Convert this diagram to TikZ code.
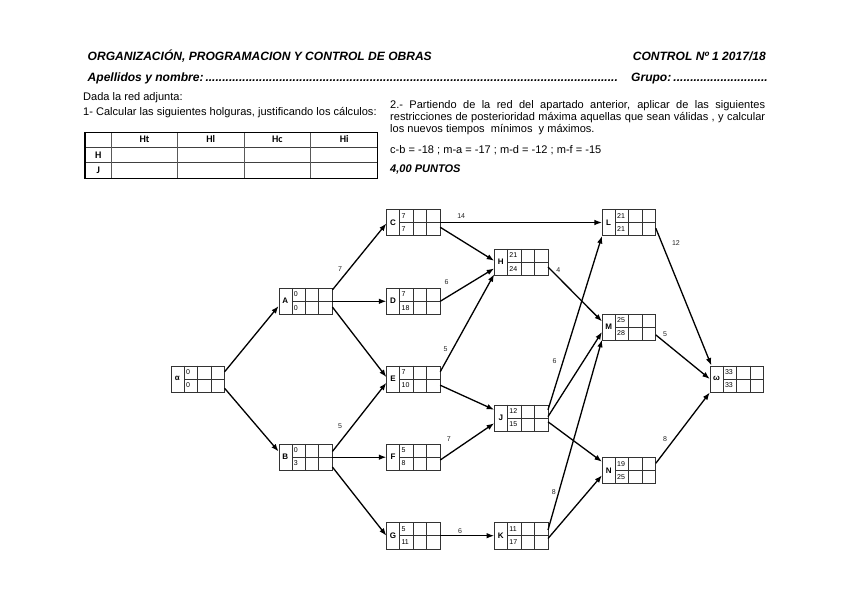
\documentclass[tikz,border=0pt]{standalone}
\usepackage{fontspec}
\setmainfont{Liberation Sans}
\newfontfamily\tablafont{Carlito}
\usetikzlibrary{arrows.meta}

% casilla de actividad: nombre, posicion, letra, tiempo minimo, tiempo maximo
\newcommand{\actividad}[5]{%
  \node[caja] (#1) at (#2) {};
  \begin{scope}[shift={(#1.north west)}]
    \draw[rejilla] (13.3,0) -- (13.3,26.4) (26.7,0) -- (26.7,26.4)
      (40,0) -- (40,26.4) (13.3,13.2) -- (53.3,13.2);
    \node[letra] (#1-l) at (6.65,13.2) {#3};
    \node[num] (#1-t) at (15,6.6) {#4};
    \node[num] (#1-b) at (15,19.8) {#5};
  \end{scope}
}

\begin{document}
\begin{tikzpicture}[x=0.035cm, y=-0.035cm,
    caja/.style={draw=black!80, line width=0.5pt, rectangle, inner sep=0pt,
      minimum width=1.8655cm, minimum height=0.924cm},
    rejilla/.style={draw=black!80, line width=0.5pt},
    letra/.style={font=\fontsize{8}{9}\selectfont\bfseries, inner sep=0pt},
    num/.style={font=\fontsize{7}{8}\selectfont, inner sep=0pt, anchor=west},
    flecha/.style={-{Latex[length=7.5pt,width=5.5pt]}, line width=1.3pt},
    lbl/.style={font=\fontsize{7}{8}\selectfont, text=black!85, inner sep=0pt},
    titulo/.style={font=\fontsize{12}{14}\selectfont\bfseries\itshape, inner sep=0pt},
    texto/.style={font=\fontsize{11}{12}\selectfont, inner sep=0pt},
    cab/.style={font=\tablafont\bfseries\fontsize{10}{11}\selectfont, inner sep=0pt,
      text height=6.5pt, text depth=0pt},
  ]
  \useasboundingbox (0,0) rectangle (848,599);

  % cabecera
  \node[titulo, anchor=base west] (tit) at (87.5,60.7)
    {ORGANIZACIÓN, PROGRAMACION Y CONTROL DE OBRAS};
  \node[titulo, anchor=base east] (ctrl) at (766,60.7) {CONTROL Nº 1 2017/18};
  \node[titulo, anchor=base west] (apell) at (87.5,81)
    {\hbox to 18.55cm{Apellidos y nombre:\,\xleaders\hbox{.}\hfill}};
  \node[titulo, anchor=base west] (grupo) at (631,81)
    {\hbox to 4.78cm{Grupo:\,\xleaders\hbox{.}\hfill}};

  % enunciado
  \node[texto, anchor=base west] (dada) at (83,100) {Dada la red adjunta:};
  \node[texto, anchor=base west] (calc) at (83,115.7)
    {1- Calcular las siguientes holguras, justificando los cálculos:};
  \node[texto, anchor=north west, text width=13.125cm, align=justify] (parte2) at (390,100.3)
    {2.- Partiendo de la red del apartado anterior, aplicar de las siguientes\linebreak
     restricciones de posterioridad máxima aquellas que sean válidas , y calcular\linebreak
     los nuevos tiempos~ mínimos~ y máximos.};
  \node[texto, anchor=base west] (restr) at (390,153.3)
    {c-b = -18 ; m-a = -17 ; m-d = -12 ; m-f = -15};
  \node[texto, anchor=base west, font=\fontsize{11}{12}\selectfont\bfseries\itshape] (puntos) at (390,172.7)
    {4,00 PUNTOS};

  % tabla de holguras
  \draw[line width=0.5pt, black!75] (85,147.3) -- (377.7,147.3) (85,162.6) -- (377.7,162.6);
  \foreach \x in {111.7,177.3,244,310.7}
    \draw[line width=0.9pt, black!65] (\x,132) -- (\x,178);
  \draw[line width=1pt] (85,132) rectangle (377.7,178);
  \foreach \t/\x in {Ht/144.5,Hl/210.7,Hc/277.3,Hi/344.2}
    \node[cab] (t-\t) at (\x,139.6) {\t};
  \node[cab] (t-H) at (98.3,154.9) {H};
  \node[cab] (t-J) at (98.3,170.3) {J};

  % red
  \actividad{alfa}{197.7,379}{α}{0}{0}
  \actividad{A}{305.5,301.3}{A}{0}{0}
  \actividad{B}{305.5,457.2}{B}{0}{3}
  \actividad{C}{413.3,222.5}{C}{7}{7}
  \actividad{D}{413.3,301.3}{D}{7}{18}
  \actividad{E}{413.3,379}{E}{7}{10}
  \actividad{F}{413.3,457.2}{F}{5}{8}
  \actividad{G}{413.3,535.7}{G}{5}{11}
  \actividad{H}{521.1,262.2}{H}{21}{24}
  \actividad{J}{521.1,418}{J}{12}{15}
  \actividad{K}{521.1,535.7}{K}{11}{17}
  \actividad{L}{628.9,222.5}{L}{21}{21}
  \actividad{M}{628.9,327.2}{M}{25}{28}
  \actividad{N}{628.9,470.5}{N}{19}{25}
  \actividad{omega}{736.7,379}{ω}{33}{33}

  % conexiones
  \draw[flecha] (alfa.15) -- (A.190);
  \draw[flecha] (alfa.-19) -- (B.168);
  \draw[flecha] (A.23) -- node[lbl, pos=0.14, yshift=11pt] {7} (C.182);
  \draw[flecha] (A.east) -- (D.west);
  \draw[flecha] (A.-12) -- (E.176);
  \draw[flecha] (B.12) -- node[lbl, pos=0.14, yshift=16pt] {5} (E.188);
  \draw[flecha] (B.east) -- (F.west);
  \draw[flecha] (B.-20) -- (G.west);
  \draw[flecha] (C.east) -- node[lbl, pos=0.13, yshift=6pt] {14} (L.west);
  \draw[flecha] (C.-10) -- (H.177);
  \draw[flecha] (D.east) -- node[lbl, pos=0.12, yshift=15.5pt] {6} (H.193);
  \draw[flecha] (E.15) -- node[lbl, pos=0.1, yshift=13.3pt] {5} (H.204);
  \draw[flecha] (E.-13) -- (J.163);
  \draw[flecha] (F.-6) -- node[lbl, pos=0.16, yshift=15.3pt] {7} (J.191);
  \draw[flecha] (G.east) -- node[lbl, pos=0.37, yshift=5pt] {6} (K.west);
  \draw[flecha] (H.-10) -- node[lbl, pos=0.19, yshift=7pt] {4} (M.168);
  \draw[flecha] (J.17) -- node[lbl, pos=0.28, xshift=-8.4pt] {6} (L.south west);
  \draw[flecha] (J.3) -- (M.190);
  \draw[flecha] (J.-8) -- (N.162);
  \draw[flecha] (K.12) -- node[lbl, pos=0.2, xshift=-5pt] {8} (M.205);
  \draw[flecha] (K.-6) -- (N.190);
  \draw[flecha] (L.-12) -- node[lbl, pos=0.11, xshift=14pt] {12} (omega.152);
  \draw[flecha] (M.-16) -- node[lbl, pos=0.17, yshift=8pt] {5} (omega.west);
  \draw[flecha] (N.15) -- node[lbl, pos=0.17, yshift=12pt] {8} (omega.south west);
\end{tikzpicture}
\end{document}
